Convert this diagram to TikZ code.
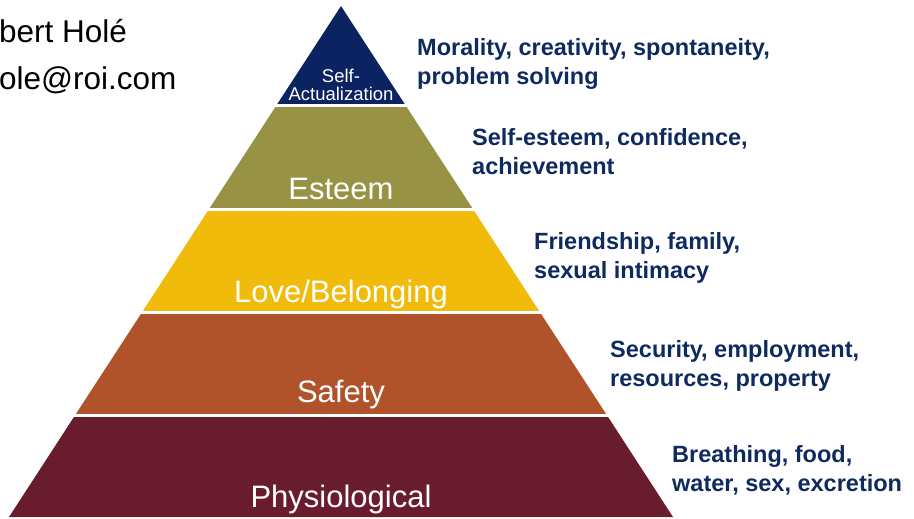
\documentclass[tikz,border=0pt]{standalone}
\usepackage{fontspec}
\setmainfont{Liberation Sans}
\definecolor{cNavy}{HTML}{0B2361}
\definecolor{cOlive}{HTML}{979244}
\definecolor{cGold}{HTML}{F0BB0B}
\definecolor{cRust}{HTML}{B0532B}
\definecolor{cMaroon}{HTML}{6A1C2F}
\definecolor{cText}{HTML}{0F2A5F}
\tikzset{
  lvl/.style={text=white, inner sep=0pt, anchor=base, font=\fontsize{31}{36}\selectfont},
  desc/.style={text=cText, inner sep=0pt, anchor=base west, font=\fontsize{23.5}{29}\bfseries},
  sep/.style={draw=white, line width=3pt},
  who/.style={text=black, inner sep=0pt, anchor=base west, font=\fontsize{31.5}{36}\selectfont}
}
\newcommand{\twolines}[2]{\begin{tabular}[t]{@{}l@{}}#1\\#2\end{tabular}}
\begin{document}
\begin{tikzpicture}[x=1pt,y=-1pt]
\useasboundingbox (0,0) rectangle (914,519);
% bands
\fill[cNavy]   (341,6) -- (276.0,106) -- (406.0,106) -- cycle;
\fill[cOlive]  (276.0,106) -- (209.1,209) -- (472.9,209) -- (406.0,106) -- cycle;
\fill[cGold]   (209.1,209) -- (142.2,312) -- (539.8,312) -- (472.9,209) -- cycle;
\fill[cRust]   (142.2,312) -- (74.9,415.5) -- (607.1,415.5) -- (539.8,312) -- cycle;
\fill[cMaroon] (74.9,415.5) -- (9,517) -- (673,517) -- (607.1,415.5) -- cycle;
% separators
\draw[sep] (270,106) -- (412,106);
\draw[sep] (203,209) -- (479,209);
\draw[sep] (136,312) -- (546,312);
\draw[sep] (69,415.5) -- (613,415.5);
% level labels
\node[lvl, font=\fontsize{18.5}{18}\selectfont] (selfa) at (341,82.7) {Self-};
\node[lvl, font=\fontsize{18.5}{18}\selectfont] (selfb) at (341,100.7) {Actualization};
\node[lvl] (esteem) at (341,199) {Esteem};
\node[lvl] (love) at (341,302) {Love/Belonging};
\node[lvl] (safety) at (341,402) {Safety};
\node[lvl] (phys) at (341,507) {Physiological};
% descriptions
\node[desc] (d1) at (417,56) {\twolines{Morality, creativity, spontaneity,}{problem solving}};
\node[desc] (d2) at (472,146) {\twolines{Self-esteem, confidence,}{achievement}};
\node[desc] (d3) at (534,249) {\twolines{Friendship, family,}{sexual intimacy}};
\node[desc] (d4) at (610,357) {\twolines{Security, employment,}{resources, property}};
\node[desc] (d5) at (672,462) {\twolines{Breathing, food,}{water, sex, excretion}};
% author
\node[who] (name) at (-1,43) {bert Holé};
\node[who] (mail) at (-1,90) {ole@roi.com};
\end{tikzpicture}
\end{document}
